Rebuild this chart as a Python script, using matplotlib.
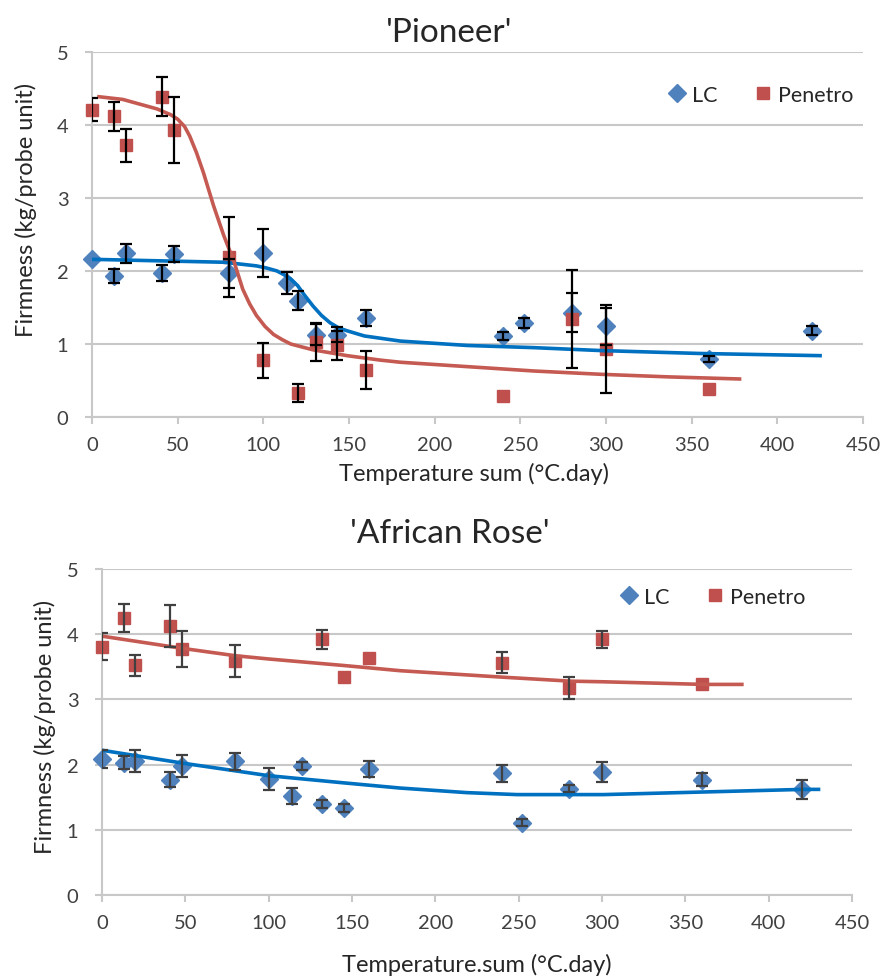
import matplotlib
matplotlib.use('Agg')
import matplotlib.pyplot as plt

plt.rcParams['font.family'] = ['Lato', 'DejaVu Sans']

# 'Pioneer' - LC
pio_lc_x = [0, 13, 20, 41, 48, 80, 100, 114, 120, 131, 143, 160, 240, 252, 280, 300, 360, 420]
pio_lc_y = [2.17, 1.93, 2.24, 1.97, 2.23, 1.97, 2.25, 1.83, 1.59, 1.13, 1.13, 1.35, 1.11, 1.29, 1.43, 1.24, 0.79, 1.18]
pio_lc_err = [0.0, 0.1, 0.13, 0.11, 0.11, 0.2, 0.33, 0.15, 0.13, 0.15, 0.1, 0.11, 0.05, 0.07, 0.27, 0.25, 0.04, 0.06]
# 'Pioneer' - Penetro
pio_pen_x = [0, 13, 20, 41, 48, 80, 100, 120, 131, 143, 160, 240, 280, 300, 360]
pio_pen_y = [4.21, 4.12, 3.72, 4.39, 3.93, 2.19, 0.78, 0.33, 1.03, 0.98, 0.64, 0.29, 1.34, 0.93, 0.39]
pio_pen_err = [0.16, 0.2, 0.23, 0.27, 0.45, 0.55, 0.24, 0.12, 0.26, 0.2, 0.26, 0.0, 0.67, 0.6, 0.0]
# fitted curves
pio_lc_fit_x = [0, 38, 77, 96, 102, 108, 112, 116, 120, 124, 129, 134, 139, 144, 149, 159, 180, 219, 258, 297, 355, 426]
pio_lc_fit_y = [2.16, 2.14, 2.12, 2.07, 2.04, 2.00, 1.95, 1.89, 1.80, 1.67, 1.52, 1.39, 1.29, 1.22, 1.18, 1.11, 1.04, 0.98, 0.95, 0.91, 0.87, 0.84]
pio_pen_fit_x = [3, 18, 38, 46, 50, 54, 57, 61, 65, 71, 77, 83, 88, 92, 96, 101, 106, 111, 116, 129, 149, 168, 180, 219, 258, 297, 336, 379]
pio_pen_fit_y = [4.39, 4.35, 4.22, 4.14, 4.08, 3.98, 3.85, 3.62, 3.35, 2.89, 2.48, 2.12, 1.75, 1.55, 1.39, 1.24, 1.13, 1.06, 1.00, 0.92, 0.84, 0.78, 0.75, 0.69, 0.63, 0.585, 0.55, 0.52]

# 'African Rose' - LC
afr_lc_x = [0, 13, 20, 41, 48, 80, 100, 114, 120, 132, 145, 160, 240, 252, 280, 300, 360, 420]
afr_lc_y = [2.09, 2.03, 2.05, 1.77, 1.98, 2.05, 1.78, 1.52, 1.98, 1.39, 1.34, 1.93, 1.87, 1.11, 1.63, 1.89, 1.77, 1.62]
afr_lc_err = [0.14, 0.1, 0.17, 0.11, 0.17, 0.13, 0.17, 0.12, 0.06, 0.06, 0.06, 0.12, 0.13, 0.05, 0.05, 0.15, 0.1, 0.14]
# 'African Rose' - Penetro
afr_pen_x = [0, 13, 20, 41, 48, 80, 132, 145, 160, 240, 280, 300, 360]
afr_pen_y = [3.81, 4.25, 3.52, 4.13, 3.77, 3.59, 3.92, 3.35, 3.63, 3.56, 3.17, 3.92, 3.23]
afr_pen_err = [0.21, 0.21, 0.16, 0.32, 0.28, 0.25, 0.15, 0.0, 0.0, 0.16, 0.17, 0.13, 0.0]
afr_lc_fit_x = [0, 49, 100, 145, 179, 219, 249, 281, 301, 361, 421, 431]
afr_lc_fit_y = [2.22, 2.02, 1.83, 1.72, 1.64, 1.57, 1.54, 1.54, 1.54, 1.58, 1.62, 1.62]
afr_pen_fit_x = [0, 49, 80, 100, 145, 179, 241, 281, 301, 361, 385]
afr_pen_fit_y = [3.97, 3.78, 3.67, 3.62, 3.52, 3.44, 3.34, 3.28, 3.27, 3.23, 3.23]

BLUE = '#4F81BD'
RED = '#C0504D'
BLUE_LINE = '#0070C0'
RED_LINE = '#C55A52'
GRID = '#C8C8C8'


def bars(ax, xs, ys, es, col):
    # points without a measured spread get no bar at all
    keep = [i for i, e in enumerate(es) if e > 0]
    ax.errorbar([xs[i] for i in keep], [ys[i] for i in keep], yerr=[es[i] for i in keep],
                fmt='none', ecolor=col, elinewidth=1.6, capsize=4.5, capthick=1.6, zorder=5)


def draw(ax, lc, pen, lc_fit, pen_fit, err_col):
    ax.plot(lc[0], lc[1], 'D', color=BLUE, ms=9, zorder=3, clip_on=False, label='LC')
    ax.plot(pen[0], pen[1], 's', color=RED, ms=8.5, zorder=3, clip_on=False, label='Penetro')
    ax.plot(lc_fit[0], lc_fit[1], '-', color=BLUE_LINE, lw=2.6, zorder=4, solid_capstyle='butt')
    ax.plot(pen_fit[0], pen_fit[1], '-', color=RED_LINE, lw=2.6, zorder=4, solid_capstyle='butt')
    bars(ax, lc[0], lc[1], lc[2], err_col)
    bars(ax, pen[0], pen[1], pen[2], err_col)
    ax.set_xlim(0, 450)
    ax.set_ylim(0, 5)
    ax.set_xticks(range(0, 451, 50))
    ax.set_yticks(range(0, 6))
    for s in ['top', 'right']:
        ax.spines[s].set_visible(False)
    for s in ['left', 'bottom']:
        ax.spines[s].set_color(GRID)
        ax.spines[s].set_linewidth(1.5)
    ax.yaxis.grid(True, color=GRID, lw=1.5)
    ax.set_axisbelow(True)
    ax.tick_params(axis='both', colors=GRID, labelcolor='#404040', labelsize=14.5,
                   length=5, width=1.5, direction='out')
    ax.tick_params(axis='y', pad=12)
    ax.tick_params(axis='x', pad=9)


fig = plt.figure(figsize=(8.86, 9.78), dpi=100)
W, H = 886, 978

ax1 = fig.add_axes([92 / W, 1 - 418 / H, 771 / W, 365 / H])
draw(ax1, (pio_lc_x, pio_lc_y, pio_lc_err), (pio_pen_x, pio_pen_y, pio_pen_err),
     (pio_lc_fit_x, pio_lc_fit_y), (pio_pen_fit_x, pio_pen_fit_y), 'black')
ax2 = fig.add_axes([102 / W, 1 - 896 / H, 750 / W, 326 / H])
draw(ax2, (afr_lc_x, afr_lc_y, afr_lc_err), (afr_pen_x, afr_pen_y, afr_pen_err),
     (afr_lc_fit_x, afr_lc_fit_y), (afr_pen_fit_x, afr_pen_fit_y), '#404040')

txt = '#262626'
fig.text(449 / W, 1 - 42 / H, "'Pioneer'", ha='center', va='baseline', fontsize=24, color=txt)
fig.text(450 / W, 1 - 543 / H, "'African Rose'", ha='center', va='baseline', fontsize=24, color=txt)
fig.text(474 / W, 1 - 481 / H, 'Temperature sum (°C.day)', ha='center', va='baseline',
         fontsize=17, color=txt)
fig.text(477 / W, 1 - 965 / H, 'Temperature.sum (°C.day)', ha='center', va='center',
         fontsize=17, color=txt)
fig.text(26 / W, 1 - 210 / H, 'Firmness (kg/probe unit)', ha='center', va='center',
         rotation=90, fontsize=17, color=txt)
fig.text(45 / W, 1 - 727 / H, 'Firmness (kg/probe unit)', ha='center', va='center',
         rotation=90, fontsize=17, color=txt)

for ax, cx, cy in [(ax1, 760, 96), (ax2, 712, 598)]:
    leg = ax.legend(loc='center', bbox_to_anchor=(cx / W, 1 - cy / H),
                    bbox_transform=fig.transFigure, ncol=2, frameon=False,
                    fontsize=15.5, handletextpad=0.2, columnspacing=1.6,
                    handlelength=1.0, borderaxespad=0)
    for t in leg.get_texts():
        t.set_color(txt)

fig.savefig('out.png', dpi=100)
